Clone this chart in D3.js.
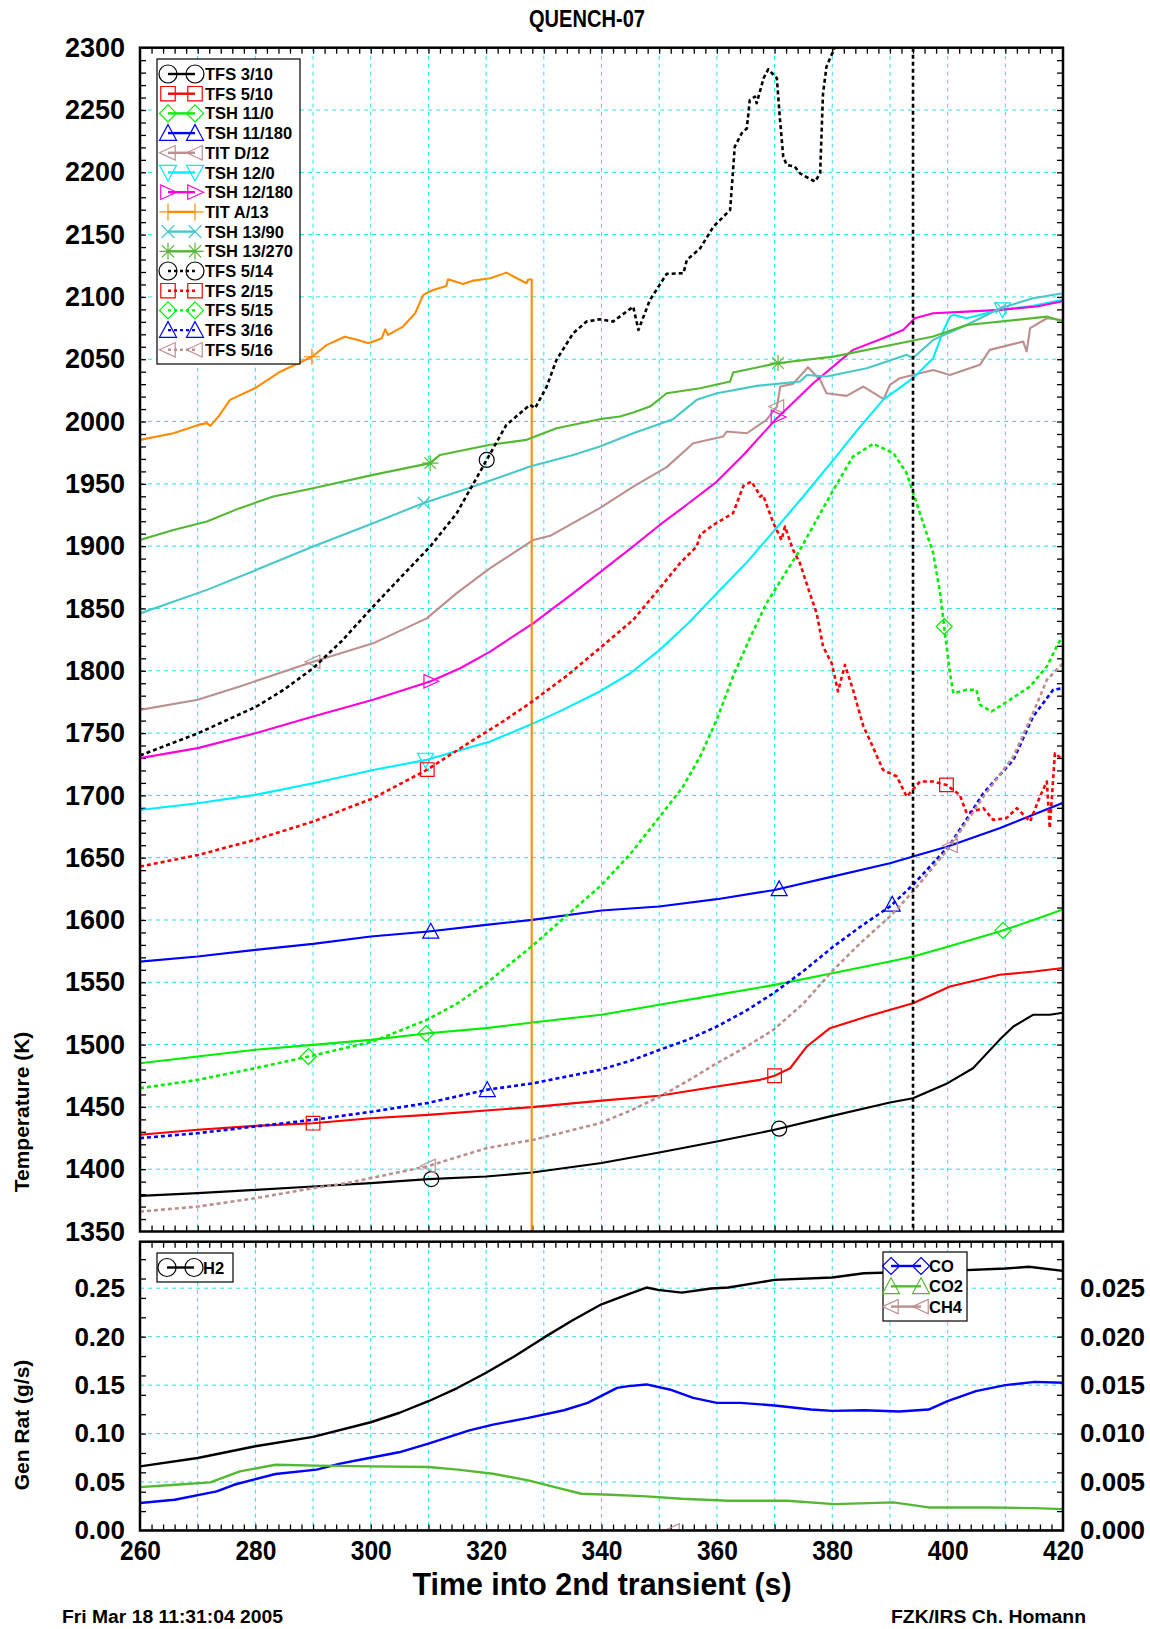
<!DOCTYPE html>
<html>
<head>
<meta charset="utf-8">
<script src="https://cdn.jsdelivr.net/npm/d3@7"></script>
<style>
body { margin: 0; background: #fff; }
text { font-family: "Liberation Sans", Arial, Helvetica, sans-serif; font-weight: bold; fill: #000; }
</style>
</head>
<body>
<svg id="chart" width="1150" height="1629"></svg>
<script>
'use strict';

// ---- data (time s, temperature K) ----
const tfs310 = [[260,1378.6],[270,1380.8],[280,1383.4],[290,1386.1],[300,1388.8],[310,1392],[320,1394.1],[328,1397.3],[340,1405],[350,1413.4],[360,1422.2],[370,1431.6],[380,1442.8],[390,1453.5],[394,1457],[400,1469],[404.4,1481],[409,1503.8],[411.4,1514.5],[414.8,1523.9],[417.7,1524],[420,1525.5]];
const tfs510 = [[260,1427.6],[270,1431.6],[280,1434.8],[290,1436.9],[300,1440.9],[310,1443.6],[320,1447.1],[328,1449.8],[340,1455],[350,1458.9],[360,1466.3],[367.5,1471.7],[370,1475],[372.7,1481],[375.6,1498.5],[379.6,1513.2],[386,1522.5],[394,1533.2],[400.4,1546.6],[409,1556],[415,1558.6],[420,1561.5]];
const tsh110 = [[260,1485],[270,1490.4],[280,1495.8],[290,1499.8],[300,1503.8],[310,1509.1],[320,1513.2],[328,1517.7],[340,1524],[350,1531.9],[360,1539.9],[370,1547.9],[380,1557.3],[390,1566.6],[394,1570.7],[400,1578.5],[409,1590.7],[415,1600.1],[420,1608.5]];
const tsh11180 = [[260,1566.6],[270,1570.7],[280,1576],[290,1580.8],[300,1586.7],[310,1590.7],[320,1596.1],[328,1600.1],[340,1607.6],[350,1610.8],[360,1616.7],[370,1624.1],[380,1634.8],[390,1645.5],[394,1650.9],[400,1658.9],[409,1673.6],[420,1694]];
const titD12 = [[260,1768.6],[270,1776.7],[277.3,1787.4],[290,1807.2],[300.4,1822],[309.7,1842],[314.9,1862.3],[320.7,1882.3],[328.2,1905],[331.1,1908.3],[339.7,1930.5],[345.5,1947.8],[351.3,1963.4],[355.9,1982.6],[361.1,1988],[361.7,1992],[365.2,1990.6],[368.6,2001.3],[370.4,2012],[371,2028.1],[373.2,2030.2],[375.8,2043.6],[377.9,2033.4],[379,2022.7],[382.5,2020.6],[385.4,2028.1],[388.9,2017.9],[390,2029.4],[391.7,2034.8],[397.5,2041.4],[400.4,2037.4],[405.6,2045.5],[407.3,2057.5],[413.1,2064.2],[413.7,2056.2],[414.3,2074.9],[417.2,2082.9],[420,2081.5]];
const tsh120 = [[260,1688.3],[270,1693.7],[280,1700.4],[290,1709.7],[300.4,1720.4],[309.7,1728.5],[320.7,1743.2],[327.6,1756.6],[333,1768],[339.7,1783.4],[345,1798],[350.1,1816.8],[355,1838],[360,1862.3],[365,1886],[369.8,1911.7],[375,1940],[380.2,1969.2],[384.5,1994],[388.8,2017.4],[394,2034.8],[397.5,2050.8],[399.2,2072.2],[400.4,2084.2],[401,2085.6],[403.3,2082.9],[409.1,2089.6],[414.8,2092.8],[420,2097.8]];
const tsh12180 = [[260,1729.9],[270,1737.9],[280,1749.9],[290,1763.3],[300.4,1776.7],[310.3,1791.4],[315.5,1802],[320.7,1815.4],[328.2,1838.2],[335.1,1862.3],[340,1880],[345,1898],[350.1,1917],[355,1934],[360,1951.8],[364.6,1973.2],[370.4,2002.7],[376.7,2030.7],[383.6,2057.5],[388.8,2066.8],[392.3,2073.5],[394.3,2082.9],[397.5,2086.9],[403.3,2088.2],[409.1,2089.6],[415.4,2092.3],[420,2096.5]];
const titA13 = [[260,1985.3],[265.8,1990.6],[270.1,1997.3],[271.6,1998.7],[272.2,1996.5],[273.6,2004],[275.6,2017.4],[279.9,2026.7],[284.3,2040],[289.8,2052],[292.4,2061.5],[295.5,2068],[298.1,2065],[299.6,2062.8],[301.9,2066.8],[302.5,2074],[303,2069.5],[305.6,2076.2],[307.7,2086.9],[309.1,2101.6],[310.8,2105.6],[313.1,2108.8],[313.4,2114.2],[316,2110.4],[317.8,2113.1],[320.7,2115],[323.5,2119.5],[325.3,2115],[327,2111],[327.3,2114],[327.9,2114],[327.9,1330]];
const tsh1390 = [[260,1846],[271.6,1864.9],[280.2,1881],[290,1899.7],[300.4,1918.4],[309.1,1934.5],[317.8,1947.8],[327.6,1963.9],[335.1,1973.2],[339.7,1979.9],[345.5,1990.6],[352.4,2001.9],[356.5,2017.4],[360,2022.7],[366.9,2028.6],[374.4,2032.1],[375.6,2037.4],[379,2036.1],[386,2042.8],[392.9,2053.5],[394,2051],[397.5,2065.5],[403.3,2077.5],[409.1,2090.9],[414.8,2098.9],[420,2103]];
const tsh13270 = [[260,1905],[265.8,1913],[271.6,1919.7],[277.3,1930.5],[283.1,1939.8],[290,1946.5],[300.4,1957.2],[310.3,1966.6],[312,1973.2],[320.7,1981.3],[327,1985.3],[332.2,1994.6],[339.7,2001.9],[343.2,2004],[345.5,2007.2],[348.4,2012],[351.3,2022.7],[357.1,2026.7],[362.3,2032.1],[362.8,2039.3],[370.4,2046.8],[380.2,2052.1],[391.7,2062.8],[397.5,2068.2],[403.3,2077.5],[412,2081.6],[417.2,2084.2],[420,2080.2]];
const tfs514 = [[260,1732],[270.1,1749.9],[280.2,1771.3],[285,1785],[290,1802],[295,1824],[300.4,1851.5],[305,1874],[310.3,1899.7],[314.9,1926.4],[320.1,1969.2],[323.5,1997.3],[327.6,2013.4],[328.5,2010.7],[330.5,2028.1],[332.2,2049.5],[335.1,2070.9],[337.4,2080.2],[339.7,2082.1],[342,2080.2],[345.5,2092.2],[346.4,2073.5],[348.4,2097.6],[351.3,2118.5],[354.2,2119],[354.8,2129.7],[357.1,2139],[359.4,2156.4],[362.3,2169.8],[363.1,2220.6],[364.3,2231.3],[365.2,2235.3],[365.7,2258],[366.6,2260.7],[366.9,2255.4],[368.1,2275.5],[368.9,2282.7],[370.4,2275.5],[370.9,2244.7],[371.5,2212.6],[372.1,2205.9],[373.5,2204.6],[374.4,2199.2],[377,2192.5],[377.9,2199.2],[378.4,2263.4],[379,2284.8],[380.5,2300.9],[382,2330]];
const tfs215 = [[260,1642.9],[270.1,1652.2],[279.9,1664.3],[290,1679],[300.4,1697.7],[309.7,1720.4],[317.8,1744.5],[322.5,1758],[327.6,1774],[334,1796],[339.7,1818.1],[345.5,1840.9],[350.1,1866.3],[353.6,1886.3],[356.5,1899.7],[357.1,1909.1],[359.4,1917.1],[362.8,1926.4],[364.6,1948.4],[366,1951.8],[366.9,1945.2],[367.5,1939.8],[368,1941.1],[369.8,1918.4],[371.2,1905],[371.8,1915.7],[373.2,1897],[374.4,1886.3],[376.1,1862.3],[377.3,1846.2],[378.4,1819.5],[379.9,1806.1],[381,1783.4],[382.2,1804.7],[383.6,1784.7],[385.4,1755.3],[386.5,1744.5],[388.8,1720.4],[391.2,1715.1],[392.9,1699],[395.2,1711.1],[397.5,1711.1],[399.8,1708.4],[402.1,1700.4],[403.3,1685.7],[406.2,1689.7],[407.9,1680.3],[410.2,1681.7],[412,1689.7],[414.3,1679],[416,1699],[417.2,1711.1],[417.7,1673.6],[418.6,1733.8],[420,1728.5]];
const tfs515 = [[260,1465],[270,1471.7],[280,1481.1],[289.2,1490.4],[300.4,1502.5],[309.7,1519.8],[315,1533],[320.1,1549.3],[328.2,1580],[335.1,1608.1],[340,1628],[345,1653],[350.1,1683],[354,1706],[357.1,1731.2],[360,1761],[362.8,1795.4],[365.7,1826],[368.6,1854.2],[374.4,1897],[380.2,1945.2],[383.6,1971.9],[387.1,1982.1],[390.6,1974.6],[392.9,1958.5],[395.2,1926.4],[397.5,1894.4],[398.7,1862.3],[399.4,1835.5],[400.4,1798.1],[401,1782],[403.3,1784.7],[405,1784.7],[405.6,1772.7],[407.6,1767.3],[410.8,1776.7],[414.3,1787.4],[417.2,1803.4],[419.2,1822.1],[420,1828]];
const tfs316 = [[260,1424.9],[270,1428.9],[280,1434.3],[290,1439.6],[300.4,1446.3],[309.7,1453],[320.1,1463.7],[328.2,1469],[339.7,1479.7],[345,1487],[350.1,1495.8],[355,1504],[360,1514.5],[365,1527],[369.8,1541.2],[375,1559],[380.2,1578.7],[385,1595],[390,1610.8],[394,1628.2],[400.4,1660.3],[406.2,1701.7],[411.4,1728.5],[414.8,1763.1],[418.3,1784.7],[420,1786]];
const tfs516 = [[260,1366],[270,1370],[280,1376.7],[290,1384.8],[295.8,1388.8],[309.7,1402.2],[320.1,1416.9],[328.2,1423.6],[335.1,1431.6],[339.7,1436.9],[345,1447],[350.1,1458.3],[355,1471],[360,1485.1],[365,1498],[369.8,1511.8],[375,1533],[380.2,1560],[385,1582],[390,1602.8],[394,1622.8],[400.4,1658.9],[406.2,1699],[411.4,1731.2],[414.8,1766],[417.2,1792.7],[420,1806]];

// times at which the plotted symbols sit, legend order
const tempMarkTimes = [[310.5,370.8],[290,370],[309.6,409.6],[310.4,370.8],[290,370.4],[309.5,409.5],[310.4,370.6],[289.8],[309.2,409.3],[310.3,370.6],[320.1],[309.8,399.8],[289.2,399.4],[320.2,390.4],[310,400.5]];
const tempNames = ["TFS 3/10","TFS 5/10","TSH 11/0","TSH 11/180","TIT D/12","TSH 12/0","TSH 12/180","TIT A/13","TSH 13/90","TSH 13/270","TFS 5/14","TFS 2/15","TFS 5/15","TFS 3/16","TFS 5/16"];

// ---- gas generation rates (g/s); H2 on left axis, CO/CO2/CH4 on right axis ----
const h2 = [[260,0.0662],[270,0.0748],[280,0.0869],[290,0.0966],[300,0.1117],[305,0.1215],[310,0.1334],[315,0.147],[320,0.1628],[325,0.18],[330,0.199],[335,0.217],[340,0.2334],[344.7,0.2438],[347.8,0.2507],[349.8,0.2483],[353.9,0.2455],[359,0.2497],[362,0.2507],[370,0.2586],[380,0.261],[385.5,0.2655],[400,0.2679],[410,0.2703],[414.1,0.2721],[420,0.2679]];
const co = [[260,0.00283],[266,0.00317],[273.3,0.00403],[276.3,0.00472],[283.5,0.00583],[290.6,0.00628],[294.7,0.0069],[298.8,0.00738],[304.9,0.00807],[310,0.00897],[317.1,0.01034],[321.2,0.01093],[327.3,0.01162],[333.5,0.01241],[337.6,0.01317],[342.7,0.01472],[344.7,0.0149],[347.8,0.01507],[351.8,0.01455],[355.9,0.01369],[360,0.01317],[364.1,0.01317],[370,0.0129],[376.3,0.01248],[380,0.01234],[385.5,0.01241],[391.6,0.01228],[396.7,0.01248],[400,0.01334],[404.9,0.01438],[410,0.015],[415.1,0.01534],[420,0.01524]];
const co2 = [[260,0.00448],[266.1,0.00472],[272.2,0.00497],[277.3,0.0061],[283.5,0.00679],[290.6,0.00669],[300.1,0.00662],[310,0.00655],[315.1,0.00628],[321.2,0.00586],[327.3,0.00517],[331.4,0.00455],[336.5,0.00379],[341.6,0.00369],[347.8,0.00352],[353.9,0.00328],[362,0.00307],[372.2,0.00307],[380.4,0.00272],[390.6,0.0029],[396.7,0.00238],[406.9,0.00238],[415.1,0.00231],[420,0.00221]];
const ch4 = [[260,0],[352.3,0],[420,0]];
const gasMarkTimes = [[], [], [], [352.3]];

const timeTicks = d3.range(260, 421, 20);
const tempTicks = d3.range(1350, 2301, 50);
const rateTicks = [0, 0.05, 0.10, 0.15, 0.20, 0.25];
const rateRightTicks = [0, 0.005, 0.010, 0.015, 0.020, 0.025];
const quenchTime = 394;

// ---- styles (kept apart from the data) ----
const tempStyle = [
  {data: tfs310, color: "#000000", dotted: false, shape: "circle"},
  {data: tfs510, color: "#ff0000", dotted: false, shape: "square"},
  {data: tsh110, color: "#00ee00", dotted: false, shape: "diamond"},
  {data: tsh11180, color: "#0000ff", dotted: false, shape: "up"},
  {data: titD12, color: "#bc8f8f", dotted: false, shape: "left"},
  {data: tsh120, color: "#00eeff", dotted: false, shape: "down"},
  {data: tsh12180, color: "#ff00dd", dotted: false, shape: "right"},
  {data: titA13, color: "#ff8c00", dotted: false, shape: "plus"},
  {data: tsh1390, color: "#48c8c8", dotted: false, shape: "cross"},
  {data: tsh13270, color: "#55b833", dotted: false, shape: "star"},
  {data: tfs514, color: "#000000", dotted: true, shape: "circle"},
  {data: tfs215, color: "#ff0000", dotted: true, shape: "square"},
  {data: tfs515, color: "#00ee00", dotted: true, shape: "diamond"},
  {data: tfs316, color: "#0000ff", dotted: true, shape: "up"},
  {data: tfs516, color: "#bc8f8f", dotted: true, shape: "left"}
];
const gasStyle = [
  {name: "H2", data: h2, color: "#000000", shape: "circle", right: false},
  {name: "CO", data: co, color: "#0000ff", shape: "diamond", right: true},
  {name: "CO2", data: co2, color: "#55b833", shape: "up", right: true},
  {name: "CH4", data: ch4, color: "#bc8f8f", shape: "left", right: true}
];

const L = 140, R = 1063;
const topY0 = 47.7, topY1 = 1231.5;
const botY0 = 1241.7, botY1 = 1530.5;
const gridColor = "#22e4ee";

const svg = d3.select("#chart");
const x = d3.scaleLinear().domain([260, 420]).range([L, R]);
const yT = d3.scaleLinear().domain([1350, 2300]).range([topY1, topY0]);
const yG = d3.scaleLinear().domain([0, 0.298]).range([botY1, botY0]);
const yR = d3.scaleLinear().domain([0, 0.0298]).range([botY1, botY0]);

function markerPath(shape, s) {
  const k = s * 0.72, c = s * 0.75;
  switch (shape) {
    case "circle": return `M${-s},0A${s},${s},0,1,0,${s},0A${s},${s},0,1,0,${-s},0Z`;
    case "square": return `M${-s * 0.85},${-s * 0.85}H${s * 0.85}V${s * 0.85}H${-s * 0.85}Z`;
    case "diamond": return `M0,${-s}L${s},0L0,${s}L${-s},0Z`;
    case "up": return `M0,${-s}L${s},${s * 0.85}L${-s},${s * 0.85}Z`;
    case "down": return `M0,${s}L${s},${-s * 0.85}L${-s},${-s * 0.85}Z`;
    case "left": return `M${-s},0L${s * 0.85},${-s * 0.85}L${s * 0.85},${s * 0.85}Z`;
    case "right": return `M${s},0L${-s * 0.85},${-s * 0.85}L${-s * 0.85},${s * 0.85}Z`;
    case "plus": return `M${-s},0H${s}M0,${-s}V${s}`;
    case "cross": return `M${-c},${-c}L${c},${c}M${-c},${c}L${c},${-c}`;
    case "star": return `M${-s},0H${s}M0,${-s}V${s}M${-k},${-k}L${k},${k}M${-k},${k}L${k},${-k}`;
  }
}

function valueAt(data, t) {
  for (let i = 0; i < data.length - 1; i++) {
    const a = data[i], b = data[i + 1];
    if (t >= a[0] && t <= b[0]) {
      if (b[0] === a[0]) return a[1];
      return a[1] + (b[1] - a[1]) * (t - a[0]) / (b[0] - a[0]);
    }
  }
  return data[data.length - 1][1];
}

const defs = svg.append("defs");
defs.append("clipPath").attr("id", "clipTop").append("rect")
  .attr("x", L).attr("y", topY0).attr("width", R - L).attr("height", topY1 - topY0);
defs.append("clipPath").attr("id", "clipBot").append("rect")
  .attr("x", L).attr("y", botY0).attr("width", R - L).attr("height", botY1 - botY0);

// ---- grids ----
function grid(g, yScale, yVals, y0, y1) {
  g.selectAll(".vg").data(d3.range(270, 420, 10)).join("line")
    .attr("x1", d => x(d)).attr("x2", d => x(d)).attr("y1", y0).attr("y2", y1)
    .attr("stroke", gridColor).attr("stroke-width", 1).attr("stroke-dasharray", "4,4");
  g.selectAll(".hg").data(yVals).join("line")
    .attr("x1", L).attr("x2", R).attr("y1", d => yScale(d)).attr("y2", d => yScale(d))
    .attr("stroke", gridColor).attr("stroke-width", 1).attr("stroke-dasharray", "4,4");
}
grid(svg.append("g"), yT, d3.range(1400, 2300, 50), topY0, topY1);
grid(svg.append("g"), yG, rateTicks.slice(1), botY0, botY1);

// ---- minor ticks (inward) ----
function ticks(axis, transform) {
  const g = svg.append("g").attr("transform", transform).call(axis);
  g.select(".domain").remove();
  g.selectAll("line").attr("stroke", "#000").attr("stroke-width", 1.3);
  return g;
}
const minorT = d3.range(262, 420, 2);
ticks(d3.axisTop(x).tickValues(minorT).tickSize(-6).tickFormat(""), `translate(0,${topY0})`);
ticks(d3.axisBottom(x).tickValues(minorT).tickSize(-6).tickFormat(""), `translate(0,${topY1})`);
ticks(d3.axisTop(x).tickValues(minorT).tickSize(-6).tickFormat(""), `translate(0,${botY0})`);
ticks(d3.axisBottom(x).tickValues(minorT).tickSize(-6).tickFormat(""), `translate(0,${botY1})`);
const minorK = d3.range(1360, 2300, 10);
ticks(d3.axisLeft(yT).tickValues(minorK).tickSize(-6).tickFormat(""), `translate(${L},0)`);
ticks(d3.axisRight(yT).tickValues(minorK).tickSize(-6).tickFormat(""), `translate(${R},0)`);
const minorG = d3.range(0.02, 0.295, 0.02);
ticks(d3.axisLeft(yG).tickValues(minorG).tickSize(-6).tickFormat(""), `translate(${L},0)`);
ticks(d3.axisRight(yG).tickValues(minorG).tickSize(-6).tickFormat(""), `translate(${R},0)`);

// ---- tick labels ----
function labels(axis, transform, size, anchor) {
  const g = svg.append("g").attr("transform", transform).call(axis);
  g.select(".domain").remove();
  g.selectAll("line").remove();
  g.selectAll("text").attr("font-size", size).attr("font-family", null)
    .style("font-family", '"Liberation Sans", Arial, sans-serif').style("font-weight", "bold");
  if (anchor) g.selectAll("text").attr("text-anchor", anchor);
  return g;
}
labels(d3.axisLeft(yT).tickValues(tempTicks).tickSize(0).tickPadding(15).tickFormat(d3.format("d")),
  `translate(${L},0)`, 27);
labels(d3.axisLeft(yG).tickValues(rateTicks).tickSize(0).tickPadding(15).tickFormat(d3.format(".2f")),
  `translate(${L},0)`, 26);
labels(d3.axisRight(yR).tickValues(rateRightTicks).tickSize(0).tickPadding(17).tickFormat(d3.format(".3f")),
  `translate(${R},0)`, 26);
labels(d3.axisBottom(x).tickValues(timeTicks).tickSize(0).tickPadding(10).tickFormat(d3.format("d")),
  `translate(0,${botY1})`, 28)
  .selectAll("text").attr("textLength", 41).attr("lengthAdjust", "spacingAndGlyphs");

// ---- series ----
const lineT = d3.line().x(d => x(d[0])).y(d => yT(d[1]));
const topG = svg.append("g").attr("clip-path", "url(#clipTop)");
tempStyle.forEach((s, i) => {
  topG.append("path").attr("d", lineT(s.data)).attr("fill", "none")
    .attr("stroke", s.color).attr("stroke-width", s.dotted ? 2.6 : 2.1)
    .attr("stroke-linejoin", "round")
    .attr("stroke-dasharray", s.dotted ? "4,3" : null);
  tempMarkTimes[i].forEach(t => {
    topG.append("path").attr("d", markerPath(s.shape, s.shape === "circle" ? 7.5 : 8))
      .attr("transform", `translate(${x(t)},${yT(valueAt(s.data, t))})`)
      .attr("fill", "none").attr("stroke", s.color).attr("stroke-width", 1.2);
  });
});

// quench-start marker line
topG.append("line")
  .attr("x1", x(quenchTime)).attr("x2", x(quenchTime)).attr("y1", topY0).attr("y2", topY1)
  .attr("stroke", "#000").attr("stroke-width", 2.6).attr("stroke-dasharray", "4,3");

const botG = svg.append("g").attr("clip-path", "url(#clipBot)");
gasStyle.forEach((s, i) => {
  const ys = s.right ? yR : yG;
  botG.append("path").attr("d", d3.line().x(d => x(d[0])).y(d => ys(d[1]))(s.data))
    .attr("fill", "none").attr("stroke", s.color).attr("stroke-width", 2.4)
    .attr("stroke-linejoin", "round");
  gasMarkTimes[i].forEach(t => {
    botG.append("path").attr("d", markerPath(s.shape, 8))
      .attr("transform", `translate(${x(t)},${ys(valueAt(s.data, t))})`)
      .attr("fill", "none").attr("stroke", s.color).attr("stroke-width", 1.2);
  });
});

// ---- frames ----
svg.append("rect").attr("x", L).attr("y", topY0).attr("width", R - L).attr("height", topY1 - topY0)
  .attr("fill", "none").attr("stroke", "#000").attr("stroke-width", 2.5);
svg.append("rect").attr("x", L).attr("y", botY0).attr("width", R - L).attr("height", botY1 - botY0)
  .attr("fill", "none").attr("stroke", "#000").attr("stroke-width", 2.5);

// ---- legends ----
function legendRow(g, cx1, cx2, cy, s, label, tx, dotted) {
  g.append("line").attr("x1", cx1).attr("x2", cx2).attr("y1", cy).attr("y2", cy)
    .attr("stroke", s.color).attr("stroke-width", 2.4)
    .attr("stroke-dasharray", dotted ? "3,3" : null);
  [cx1, cx2].forEach(cx => {
    g.append("path").attr("d", markerPath(s.shape, s.shape === "circle" ? 9 : 8.5))
      .attr("transform", `translate(${cx},${cy})`)
      .attr("fill", "none").attr("stroke", s.color).attr("stroke-width", 1.2);
  });
  g.append("text").attr("x", tx).attr("y", cy + 6).attr("font-size", 16.5).text(label);
}

const legT = svg.append("g");
legT.append("rect").attr("x", 157).attr("y", 59).attr("width", 143).attr("height", 305)
  .attr("fill", "#fff").attr("stroke", "#000").attr("stroke-width", 1.2);
tempStyle.forEach((s, i) => legendRow(legT, 168, 195, 74 + i * 19.7, s, tempNames[i], 205, s.dotted));

const legH = svg.append("g");
legH.append("rect").attr("x", 157).attr("y", 1253).attr("width", 76).attr("height", 29)
  .attr("fill", "#fff").attr("stroke", "#000").attr("stroke-width", 1.2);
legendRow(legH, 167, 194, 1267.5, gasStyle[0], gasStyle[0].name, 203, false);

const legC = svg.append("g");
legC.append("rect").attr("x", 883).attr("y", 1252).attr("width", 84).attr("height", 69)
  .attr("fill", "#fff").attr("stroke", "#000").attr("stroke-width", 1.2);
gasStyle.slice(1).forEach((s, i) => legendRow(legC, 891, 921, 1266 + i * 20.3, s, s.name, 929, false));

// ---- titles ----
svg.append("text").attr("x", 587).attr("y", 27).attr("text-anchor", "middle")
  .attr("font-size", 24).attr("textLength", 116).attr("lengthAdjust", "spacingAndGlyphs").text("QUENCH-07");
svg.append("text").attr("x", 602).attr("y", 1595).attr("text-anchor", "middle")
  .attr("font-size", 32).attr("textLength", 379).attr("lengthAdjust", "spacingAndGlyphs")
  .text("Time into 2nd transient (s)");
svg.append("text").attr("transform", "translate(29,1112) rotate(-90)").attr("text-anchor", "middle")
  .attr("font-size", 21).text("Temperature (K)");
svg.append("text").attr("transform", "translate(29,1425) rotate(-90)").attr("text-anchor", "middle")
  .attr("font-size", 21).text("Gen Rat (g/s)");
svg.append("text").attr("x", 62).attr("y", 1623).attr("font-size", 18)
  .attr("textLength", 221).attr("lengthAdjust", "spacingAndGlyphs").text("Fri Mar 18 11:31:04 2005");
svg.append("text").attr("x", 891).attr("y", 1623).attr("font-size", 18)
  .attr("textLength", 195).attr("lengthAdjust", "spacingAndGlyphs").text("FZK/IRS Ch. Homann");
</script>
</body>
</html>
